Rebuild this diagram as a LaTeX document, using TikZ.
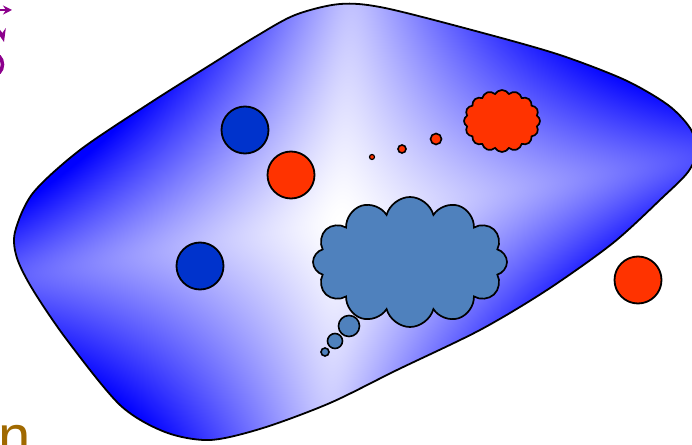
\documentclass[tikz,border=0pt]{standalone}
\usepackage{fontspec}
\newfontfamily\sansn{Liberation Sans}
\usetikzlibrary{shapes.symbols,arrows.meta}
\definecolor{blueball}{RGB}{0,51,204}
\definecolor{redball}{RGB}{255,51,0}
\definecolor{cloudblue}{RGB}{79,129,189}
\definecolor{glyphpurple}{RGB}{140,0,140}
\definecolor{textgold}{RGB}{160,105,0}
\pgfdeclarefunctionalshading{blobshade}{\pgfpoint{0bp}{0bp}}{\pgfpoint{692bp}{445bp}}{}{
  225 exch sub
  exch 340 sub
  2 copy
  1.024 mul exch 0.051 mul add
  3 1 roll
  0.174 mul exch 1.009 mul add
  dup mul 225 add sqrt 15 sub exch dup mul 225 add sqrt 15 sub
  2 copy mul 62000 div
  3 1 roll
  500 div exch 820 div add add
  dup 1 gt {pop 1} if
  1 exch sub dup 1
}
\tikzset{
  blobpath/.style={insert path={plot[smooth cycle] coordinates {
    (15,232) (33,193) (80,150) (150,103) (215,62) (255,37) (295,15) (340,4)
    (385,8) (483,33) (560,55) (625,80) (668,105) (690,128) (697,150) (688,172)
    (662,198) (613,243) (547,290) (480,330) (397,370) (330,403) (263,428)
    (210,440) (165,432) (120,405) (67,340) (33,290) (17,258)}}},
  ball/.style={circle, draw=black, line width=1.8bp, inner sep=0pt, minimum size=#1},
  bubble/.style={circle, draw=black, line width=1.6bp, inner sep=0pt, minimum size=#1},
  cloudy/.style={cloud, draw=black, line width=1.7bp, inner sep=0pt, aspect=1.4}
}
\begin{document}
\begin{tikzpicture}[x=1bp,y=-1bp]
\useasboundingbox (0,0) rectangle (692,445);
% blob
\draw[line width=1.8bp, blobpath,
  path picture={\node[inner sep=0pt, outer sep=0pt] (shade) at (346,222.5) {\pgfuseshading{blobshade}};}];
% balls
\node[ball=47bp, fill=blueball] (b1) at (245,130) {};
\node[ball=47bp, fill=blueball] (b2) at (200,266) {};
\node[ball=47bp, fill=redball] (r1) at (291,175) {};
\node[ball=47bp, fill=redball] (r2) at (638,280) {};
% red cloud and its pointer
\node[cloudy, cloud puffs=16, cloud puff arc=120, fill=redball, minimum width=76bp, minimum height=62bp] (idea) at (502,121) {};
\node[bubble=11bp, fill=redball] (ip1) at (436,139) {};
\node[bubble=8bp, fill=redball] (ip2) at (402,149) {};
\node[bubble=5bp, fill=redball, line width=1.2bp] (ip3) at (372,157) {};
% blue thought cloud and its pointer
\node[cloudy, cloud puffs=12, fill=cloudblue, minimum width=194bp, minimum height=130bp] (thought) at (410,262) {};
\node[bubble=21bp, fill=cloudblue] (tp1) at (349,326) {};
\node[bubble=15bp, fill=cloudblue] (tp2) at (335,341) {};
\node[bubble=8bp, fill=cloudblue] (tp3) at (325,352) {};
% cropped purple glyphs at top left
\coordinate (ga) at (-6,10);
\coordinate (gb) at (12,10);
\draw[glyphpurple, line width=1.8bp, -{Stealth[length=9bp,width=9bp]}] (ga) -- (gb);
\coordinate (gc) at (-8,24);
\coordinate (gd) at (4,42);
\draw[glyphpurple, line width=1.8bp, -{Stealth[length=13bp,width=10bp]}] (gc) to[bend left=20] (gd);
\coordinate (ge) at (-1,56);
\coordinate (gf) at (-1,73);
\draw[glyphpurple, line width=3.5bp] (ge) to[bend left=45] (gf);
% cropped text at bottom left
\node[anchor=north east, inner sep=0pt, text=textgold, font=\sansn\fontsize{58bp}{60bp}\selectfont] (word) at (31,425) {n};
\end{tikzpicture}
\end{document}
